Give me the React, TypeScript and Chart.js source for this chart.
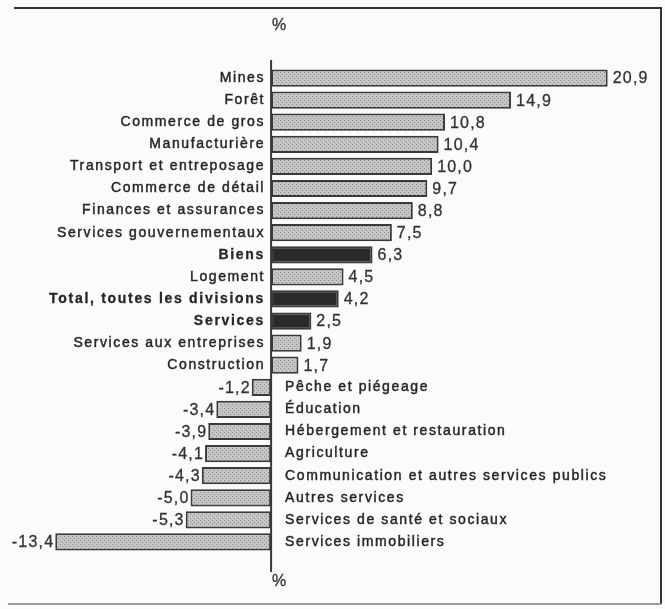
import React, { useEffect, useRef } from "react";
import { Chart, registerables } from "chart.js";

Chart.register(...registerables);

const categories = [
  "Mines",
  "Forêt",
  "Commerce de gros",
  "Manufacturière",
  "Transport et entreposage",
  "Commerce de détail",
  "Finances et assurances",
  "Services gouvernementaux",
  "Biens",
  "Logement",
  "Total, toutes les divisions",
  "Services",
  "Services aux entreprises",
  "Construction",
  "Pêche et piégeage",
  "Éducation",
  "Hébergement et restauration",
  "Agriculture",
  "Communication et autres services publics",
  "Autres services",
  "Services de santé et sociaux",
  "Services immobiliers",
];

const values = [
  20.9, 14.9, 10.8, 10.4, 10.0, 9.7, 8.8, 7.5, 6.3, 4.5, 4.2, 2.5, 1.9, 1.7,
  -1.2, -3.4, -3.9, -4.1, -4.3, -5.0, -5.3, -13.4,
];

const aggregateCategories = ["Biens", "Total, toutes les divisions", "Services"];

const unitLabel = "%";

function makePattern(): CanvasPattern | string {
  const c = document.createElement("canvas");
  c.width = 4;
  c.height = 4;
  const g = c.getContext("2d");
  if (!g) return "#b5b5b5";
  g.fillStyle = "#c6c6c4";
  g.fillRect(0, 0, 4, 4);
  g.fillStyle = "#8c8c8a";
  g.fillRect(0, 0, 1, 1);
  g.fillRect(2, 2, 1, 1);
  const p = g.createPattern(c, "repeat");
  return p || "#b5b5b5";
}

const fmt = (v: number) => v.toFixed(1).replace(".", ",");

export default function App() {
  const ref = useRef<HTMLCanvasElement | null>(null);

  useEffect(() => {
    const canvas = ref.current;
    if (!canvas) return;
    const pattern = makePattern();
    const fills = categories.map((c) =>
      aggregateCategories.includes(c) ? "#2a2a2a" : pattern
    );

    const drawText = (
      ctx: CanvasRenderingContext2D,
      t: string,
      x: number,
      y: number,
      weight: number
    ) => {
      ctx.fillText(t, x, y);
      if (weight > 0) {
        ctx.lineWidth = weight;
        ctx.strokeText(t, x, y);
      }
    };

    const decor = {
      id: "decor",
      beforeDraw(chart: any) {
        const ctx = chart.ctx;
        ctx.save();
        ctx.fillStyle = "#fbfbf9";
        ctx.fillRect(0, 0, chart.width, chart.height);
        ctx.restore();
      },
      afterDatasetsDraw(chart: any) {
        const ctx = chart.ctx as CanvasRenderingContext2D;
        const xs = chart.scales.x;
        const meta = chart.getDatasetMeta(0);
        const x0 = xs.getPixelForValue(0);
        ctx.save();
        // frame
        ctx.strokeStyle = "#333";
        ctx.lineWidth = 2;
        ctx.beginPath();
        ctx.moveTo(14, 8);
        ctx.lineTo(662, 8);
        ctx.moveTo(661, 7);
        ctx.lineTo(661, 604);
        ctx.stroke();
        ctx.strokeStyle = "#9a9a9a";
        ctx.beginPath();
        ctx.moveTo(8, 604);
        ctx.lineTo(661, 604);
        ctx.stroke();
        // zero axis
        ctx.strokeStyle = "#3a3a3a";
        ctx.lineWidth = 2;
        ctx.beginPath();
        ctx.moveTo(x0, 60);
        ctx.lineTo(x0, 572);
        ctx.stroke();
        // unit labels
        ctx.fillStyle = "#333";
        ctx.strokeStyle = "#333";
        ctx.font = "16px 'Liberation Sans'";
        ctx.textAlign = "center";
        ctx.textBaseline = "middle";
        drawText(ctx, unitLabel, x0 + 8, 26, 0.3);
        drawText(ctx, unitLabel, x0 + 8, 582, 0.3);
        // labels
        meta.data.forEach((bar: any, i: number) => {
          const v = values[i];
          const y = bar.y;
          const bold = aggregateCategories.includes(categories[i]);
          ctx.fillStyle = "#262626";
          ctx.strokeStyle = "#262626";
          (ctx as any).letterSpacing = bold ? "1.7px" : "1.6px";
          ctx.font = (bold ? "bold " : "") + "14px 'Liberation Sans'";
          if (v >= 0) {
            ctx.textAlign = "right";
            drawText(ctx, categories[i], x0 - 6, y, bold ? 0.3 : 0.45);
          } else {
            ctx.textAlign = "left";
            drawText(ctx, categories[i], x0 + 14, y, 0.45);
          }
          (ctx as any).letterSpacing = "1.2px";
          ctx.font = "16px 'Liberation Sans'";
          ctx.fillStyle = "#333";
          ctx.strokeStyle = "#333";
          if (v >= 0) {
            ctx.textAlign = "left";
            drawText(ctx, fmt(v), bar.x + 5, y + 1, 0.3);
          } else {
            ctx.textAlign = "right";
            drawText(ctx, fmt(v), bar.x - 1, y + 1, 0.3);
          }
        });
        ctx.restore();
      },
    };

    const chart = new Chart(canvas, {
      type: "bar",
      data: {
        labels: categories,
        datasets: [
          {
            data: values,
            backgroundColor: fills as any,
            borderColor: "#3a3a3a",
            borderWidth: 2,
            borderSkipped: false,
            categoryPercentage: 1,
            barPercentage: 0.78,
          },
        ],
      },
      options: {
        indexAxis: "y",
        responsive: false,
        animation: false,
        layout: { padding: { left: 29.5, right: 23.5, top: 67, bottom: 56 } },
        plugins: {
          legend: { display: false },
          tooltip: { enabled: false },
        },
        scales: {
          x: { min: -15, max: 23, display: false },
          y: { display: false },
        },
      },
      plugins: [decor],
    });
    return () => chart.destroy();
  }, []);

  return (
    <div style={{ position: "absolute", left: 0, top: 0, width: 665, height: 609 }}>
      <canvas ref={ref} width={665} height={609} />
    </div>
  );
}
